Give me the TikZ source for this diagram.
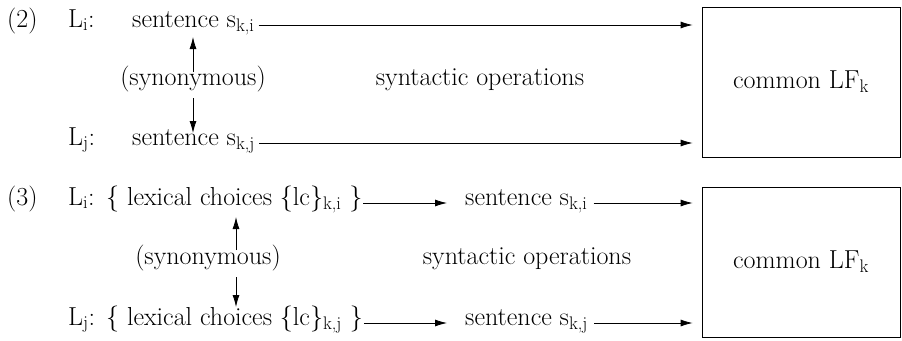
\documentclass[tikz,border=0pt]{standalone}
\usetikzlibrary{arrows.meta}
\begin{document}
\begin{tikzpicture}[x=1pt,y=-1pt,
  txt/.style={inner sep=0pt, font=\fontsize{26}{30}\selectfont},
  arr/.style={-{Latex[length=12pt,width=7pt]}, line width=0.8pt},
  lfbox/.style={draw, line width=0.8pt, minimum width=198pt, minimum height=150pt, inner sep=0pt, font=\fontsize{26}{30}\selectfont}]
\useasboundingbox (0,0) rectangle (902,340);
% ---- (2)
\node[txt, anchor=mid west] (n2) at (7,25) {(2)};
\node[txt, anchor=mid west] (li2) at (68,25) {L\textsubscript{i}:};
\node[txt, anchor=mid west] (s1) at (132,25) {sentence s\textsubscript{k,i}};
\node[txt, anchor=mid west] (lj2) at (68,143) {L\textsubscript{j}:};
\node[txt, anchor=mid west] (s2) at (132,143) {sentence s\textsubscript{k,j}};
\node[txt, anchor=mid] (syn1) at (193,83) {(synonymous)};
\node[txt, anchor=mid] (op1) at (480,83) {syntactic operations};
\node[lfbox] (box1) at (801,82) {common LF\textsubscript{k}};
\draw[arr] ([xshift=4pt]s1.mid east) -- ([xshift=-9pt]s1.mid east -| box1.west);
\draw[arr] ([xshift=4pt]s2.mid east) -- ([xshift=-9pt]s2.mid east -| box1.west);
\draw[arr] ([yshift=11pt]syn1.mid) -- ([yshift=-12pt]s1.mid west -| syn1.mid);
\draw[arr] ([yshift=-15pt]syn1.mid) -- ([yshift=10pt]s2.mid west -| syn1.mid);
% ---- (3)
\node[txt, anchor=mid west] (n3) at (7,203) {(3)};
\node[txt, anchor=mid west] (li3) at (68,203) {L\textsubscript{i}:};
\node[txt, anchor=mid west] (lc1) at (106,203) {\{ lexical choices \{lc\}\textsubscript{k,i} \}};
\node[txt, anchor=mid west] (s3) at (465,203) {sentence s\textsubscript{k,i}};
\node[txt, anchor=mid west] (lj3) at (68,323) {L\textsubscript{j}:};
\node[txt, anchor=mid west] (lc2) at (106,323) {\{ lexical choices \{lc\}\textsubscript{k,j} \}};
\node[txt, anchor=mid west] (s4) at (465,323) {sentence s\textsubscript{k,j}};
\node[txt, anchor=mid] (syn3) at (208,262) {(synonymous)};
\node[txt, anchor=mid] (op3) at (527,262) {syntactic operations};
\node[lfbox] (box2) at (801,262) {common LF\textsubscript{k}};
\draw[arr] ([xshift=1pt]lc1.mid east) -- ([xshift=-18pt]s3.mid west);
\draw[arr] ([xshift=1pt]lc2.mid east) -- ([xshift=-18pt]s4.mid west);
\draw[arr] ([xshift=6pt]s3.mid east) -- ([xshift=-9pt]s3.mid east -| box2.west);
\draw[arr] ([xshift=6pt]s4.mid east) -- ([xshift=-9pt]s4.mid east -| box2.west);
\draw[arr] ([xshift=28pt,yshift=12pt]syn3.mid) -- ([xshift=28pt,yshift=-14pt]lc1.mid west -| syn3.mid);
\draw[arr] ([xshift=28pt,yshift=-15pt]syn3.mid) -- ([xshift=28pt,yshift=16pt]lc2.mid west -| syn3.mid);
\end{tikzpicture}
\end{document}
